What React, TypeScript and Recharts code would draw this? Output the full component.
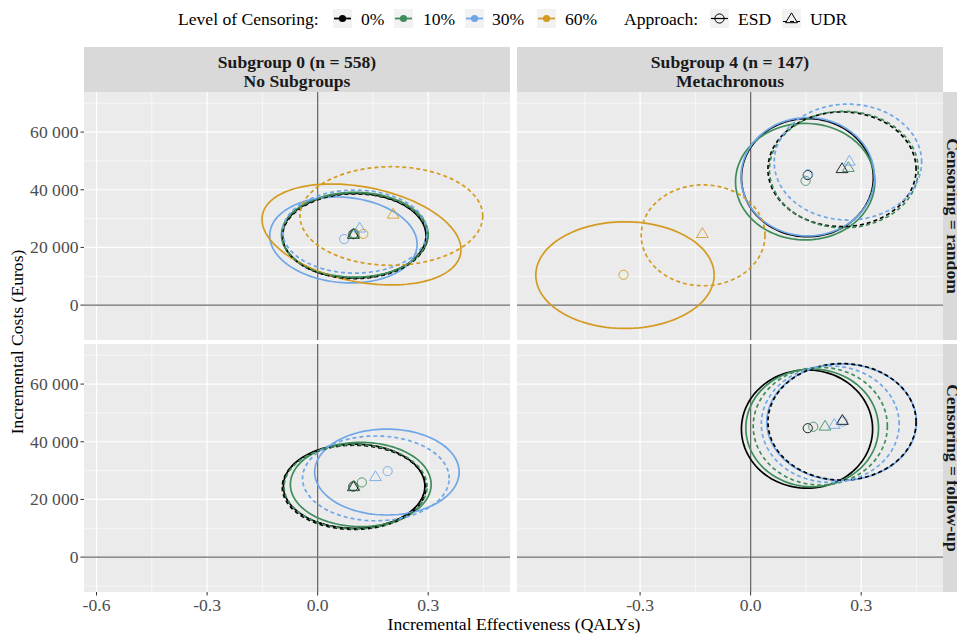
import React from 'react';
import {
  ComposedChart,
  Line,
  Scatter,
  XAxis,
  YAxis,
  CartesianGrid,
  ReferenceLine
} from 'recharts';

// level of censoring -> colour
const LEVELS = ['0%', '10%', '30%', '60%'];
const LEVEL_COLORS: Record<string, string> = {
  '0%': '#000000',
  '10%': '#3E8C5A',
  '30%': '#6EA6E8',
  '60%': '#D39B22'
};
const APPROACHES = ['ESD', 'UDR'];

const X_TICKS = [-0.6, -0.3, 0, 0.3];
const X_MINOR = [-0.45, -0.15, 0.15, 0.45];
const Y_TICKS = [0, 20000, 40000, 60000];
const Y_MINOR = [-10000, 10000, 30000, 50000, 70000];
const X_DOMAIN = [-0.634, 0.522];
const Y_DOMAIN = [-12100, 73900];

// ellipses: level, approach, centre (QALY, Euro), half widths, tilt (correlation)
const sub0RandomEllipses = [
  { level: '0%', approach: 'ESD', cx: 0.099, cy: 24100, rx: 0.195, ry: 14700, rho: 0 },
  { level: '10%', approach: 'ESD', cx: 0.101, cy: 24400, rx: 0.199, ry: 14700, rho: 0 },
  { level: '30%', approach: 'ESD', cx: 0.070, cy: 22600, rx: 0.200, ry: 14900, rho: -0.1 },
  { level: '60%', approach: 'ESD', cx: 0.119, cy: 24500, rx: 0.270, ry: 17500, rho: -0.3 },
  { level: '0%', approach: 'UDR', cx: 0.101, cy: 23900, rx: 0.196, ry: 14700, rho: 0 },
  { level: '10%', approach: 'UDR', cx: 0.100, cy: 24200, rx: 0.197, ry: 14700, rho: 0 },
  { level: '30%', approach: 'UDR', cx: 0.101, cy: 25500, rx: 0.196, ry: 14400, rho: 0 },
  { level: '60%', approach: 'UDR', cx: 0.200, cy: 30900, rx: 0.248, ry: 17100, rho: 0 }
];
const sub4RandomEllipses = [
  { level: '0%', approach: 'ESD', cx: 0.154, cy: 44200, rx: 0.179, ry: 20500, rho: 0 },
  { level: '10%', approach: 'ESD', cx: 0.148, cy: 42800, rx: 0.189, ry: 20200, rho: 0 },
  { level: '30%', approach: 'ESD', cx: 0.155, cy: 44500, rx: 0.181, ry: 20500, rho: 0 },
  { level: '60%', approach: 'ESD', cx: -0.341, cy: 10400, rx: 0.242, ry: 18500, rho: 0 },
  { level: '0%', approach: 'UDR', cx: 0.248, cy: 47100, rx: 0.201, ry: 19900, rho: 0 },
  { level: '10%', approach: 'UDR', cx: 0.253, cy: 47000, rx: 0.202, ry: 20200, rho: 0 },
  { level: '30%', approach: 'UDR', cx: 0.264, cy: 49600, rx: 0.200, ry: 20100, rho: 0 },
  { level: '60%', approach: 'UDR', cx: -0.129, cy: 24200, rx: 0.168, ry: 17500, rho: 0 }
];
const sub0FollowEllipses = [
  { level: '0%', approach: 'ESD', cx: 0.099, cy: 24600, rx: 0.192, ry: 14600, rho: 0 },
  { level: '10%', approach: 'ESD', cx: 0.117, cy: 25200, rx: 0.191, ry: 14600, rho: 0 },
  { level: '30%', approach: 'ESD', cx: 0.188, cy: 29500, rx: 0.196, ry: 14900, rho: 0 },
  { level: '0%', approach: 'UDR', cx: 0.099, cy: 24200, rx: 0.195, ry: 14600, rho: 0 },
  { level: '10%', approach: 'UDR', cx: 0.103, cy: 24400, rx: 0.194, ry: 14600, rho: 0 },
  { level: '30%', approach: 'UDR', cx: 0.158, cy: 27300, rx: 0.199, ry: 14700, rho: 0 }
];
const sub4FollowEllipses = [
  { level: '0%', approach: 'ESD', cx: 0.153, cy: 44400, rx: 0.178, ry: 20500, rho: 0 },
  { level: '10%', approach: 'ESD', cx: 0.167, cy: 44800, rx: 0.180, ry: 20400, rho: 0 },
  { level: '30%', approach: 'ESD', cx: 0.247, cy: 46800, rx: 0.203, ry: 20200, rho: 0 },
  { level: '0%', approach: 'UDR', cx: 0.248, cy: 46900, rx: 0.201, ry: 20200, rho: 0 },
  { level: '10%', approach: 'UDR', cx: 0.189, cy: 45400, rx: 0.182, ry: 20400, rho: 0 },
  { level: '30%', approach: 'UDR', cx: 0.216, cy: 46100, rx: 0.187, ry: 20200, rho: 0 }
];

// point estimates
const sub0RandomPoints = [
  { level: '0%', approach: 'ESD', x: 0.097, y: 24600 },
  { level: '10%', approach: 'ESD', x: 0.100, y: 24800 },
  { level: '30%', approach: 'ESD', x: 0.072, y: 22900 },
  { level: '60%', approach: 'ESD', x: 0.124, y: 24700 },
  { level: '0%', approach: 'UDR', x: 0.097, y: 24600 },
  { level: '10%', approach: 'UDR', x: 0.099, y: 24700 },
  { level: '30%', approach: 'UDR', x: 0.114, y: 26800 },
  { level: '60%', approach: 'UDR', x: 0.205, y: 31600 }
];
const sub4RandomPoints = [
  { level: '0%', approach: 'ESD', x: 0.155, y: 45100 },
  { level: '10%', approach: 'ESD', x: 0.149, y: 43100 },
  { level: '30%', approach: 'ESD', x: 0.156, y: 45400 },
  { level: '60%', approach: 'ESD', x: -0.345, y: 10500 },
  { level: '0%', approach: 'UDR', x: 0.248, y: 47400 },
  { level: '10%', approach: 'UDR', x: 0.265, y: 47800 },
  { level: '30%', approach: 'UDR', x: 0.268, y: 50000 },
  { level: '60%', approach: 'UDR', x: -0.131, y: 24900 }
];
const sub0FollowPoints = [
  { level: '0%', approach: 'ESD', x: 0.097, y: 24500 },
  { level: '10%', approach: 'ESD', x: 0.120, y: 25900 },
  { level: '30%', approach: 'ESD', x: 0.190, y: 29800 },
  { level: '0%', approach: 'UDR', x: 0.097, y: 24500 },
  { level: '10%', approach: 'UDR', x: 0.099, y: 24700 },
  { level: '30%', approach: 'UDR', x: 0.157, y: 28000 }
];
const sub4FollowPoints = [
  { level: '0%', approach: 'ESD', x: 0.155, y: 44700 },
  { level: '10%', approach: 'ESD', x: 0.170, y: 45200 },
  { level: '30%', approach: 'ESD', x: 0.250, y: 47000 },
  { level: '0%', approach: 'UDR', x: 0.249, y: 47500 },
  { level: '10%', approach: 'UDR', x: 0.202, y: 45500 },
  { level: '30%', approach: 'UDR', x: 0.227, y: 46100 }
];

const FONT = '"Liberation Serif", "DejaVu Serif", serif';
const FS = 17.6;
const STEPS = 120;

// outline of an ellipse in data units
const ellipseOutline = (e: any) => {
  const pts = [];
  const s = Math.sqrt(1 - e.rho * e.rho);
  for (let i = 0; i <= STEPS; i++) {
    const t = (2 * Math.PI * i) / STEPS;
    pts.push({
      x: e.cx + e.rx * Math.cos(t),
      y: e.cy + e.ry * (e.rho * Math.cos(t) + s * Math.sin(t))
    });
  }
  return pts;
};

const Marker = (props: any) => {
  const { cx, cy, payload } = props;
  if (cx == null || cy == null) return <g />;
  const color = LEVEL_COLORS[payload.level];
  if (payload.approach === 'ESD') {
    return <circle cx={cx} cy={cy} r={4.6} fill="none" stroke={color} strokeWidth={1} strokeOpacity={0.85} />;
  }
  const h = 5.6;
  return (
    <polygon
      points={`${cx},${cy - h} ${cx - h * 1.05},${cy + h * 0.75} ${cx + h * 1.05},${cy + h * 0.75}`}
      fill="none"
      stroke={color}
      strokeWidth={1}
      strokeOpacity={0.85}
    />
  );
};

const fmtY = (v: number) => {
  if (v === 0) return '0';
  const s = String(v);
  return s.slice(0, s.length - 3) + ' ' + s.slice(s.length - 3);
};

const XTick = (props: any) => {
  const { x, y, payload } = props;
  return (
    <text x={x} y={y} dy="0.75em" textAnchor="middle" fontSize={FS} fontFamily={FONT} fill="#4D4D4D">
      {Number(payload.value).toFixed(1)}
    </text>
  );
};

const YTick = (props: any) => {
  const { x, y, payload } = props;
  return (
    <text x={x} y={y} textAnchor="end" dominantBaseline="central" fontSize={FS} fontFamily={FONT} fill="#4D4D4D">
      {fmtY(payload.value)}
    </text>
  );
};

interface FacetProps {
  ellipses: any[];
  points: any[];
  showX: boolean;
  showY: boolean;
}

const Facet: React.FC<FacetProps> = ({ ellipses, points, showX, showY }) => {
  const width = (showY ? 84 : 0) + 426;
  const height = 248 + (showX ? 42 : 0);
  return (
    <ComposedChart width={width} height={height} margin={{ top: 0, right: 0, bottom: 0, left: 0 }}>
      <CartesianGrid
        fill="#EBEBEB"
        stroke="#FFFFFF"
        strokeWidth={0.6}
        horizontalValues={Y_MINOR}
        verticalValues={X_MINOR}
      />
      <CartesianGrid
        stroke="#FFFFFF"
        strokeWidth={1.2}
        horizontalValues={Y_TICKS}
        verticalValues={X_TICKS}
      />
      <XAxis
        type="number"
        dataKey="x"
        domain={X_DOMAIN}
        allowDataOverflow
        ticks={X_TICKS}
        hide={!showX}
        height={42}
        axisLine={false}
        tickLine={{ stroke: '#333333' }}
        tickSize={3.5}
        tick={<XTick />}
      />
      <YAxis
        type="number"
        dataKey="y"
        domain={Y_DOMAIN}
        allowDataOverflow
        ticks={Y_TICKS}
        hide={!showY}
        width={84}
        axisLine={false}
        tickLine={{ stroke: '#333333' }}
        tickSize={3.5}
        tick={<YTick />}
      />
      <ReferenceLine x={0} stroke="#6B6B6B" strokeWidth={1.3} />
      <ReferenceLine y={0} stroke="#6B6B6B" strokeWidth={1.3} />
      {ellipses.map((e, i) => (
        <Line
          key={'e' + i}
          data={ellipseOutline(e)}
          dataKey="y"
          type="linear"
          stroke={LEVEL_COLORS[e.level]}
          strokeWidth={1.7}
          strokeDasharray={e.approach === 'UDR' ? '4 3' : undefined}
          dot={false}
          activeDot={false}
          legendType="none"
          isAnimationActive={false}
        />
      ))}
      {APPROACHES.map((a) => (
        <Scatter
          key={'p' + a}
          data={points.filter((p) => p.approach === a)}
          dataKey="y"
          shape={Marker}
          isAnimationActive={false}
        />
      ))}
    </ComposedChart>
  );
};

const Legend = () => {
  const y = 18.5;
  const levelKeys = [
    { x: 333, tx: 361 },
    { x: 394, tx: 423 },
    { x: 465, tx: 492 },
    { x: 537, tx: 565 }
  ];
  return (
    <svg width={957} height={40} style={{ position: 'absolute', left: 0, top: 0 }}>
      <text x={178} y={y} dominantBaseline="central" fontSize={FS} fontFamily={FONT} fill="#000">
        Level of Censoring:
      </text>
      {LEVELS.map((l, i) => (
        <g key={l}>
          <rect x={levelKeys[i].x} y={9} width={19} height={19} fill="#F2F2F2" />
          <line x1={levelKeys[i].x + 1} x2={levelKeys[i].x + 18} y1={y} y2={y} stroke={LEVEL_COLORS[l]} strokeWidth={1.8} />
          <circle cx={levelKeys[i].x + 9.5} cy={y} r={3.6} fill={LEVEL_COLORS[l]} />
          <text x={levelKeys[i].tx} y={y} dominantBaseline="central" fontSize={FS} fontFamily={FONT} fill="#000">
            {l}
          </text>
        </g>
      ))}
      <text x={624} y={y} dominantBaseline="central" fontSize={FS} fontFamily={FONT} fill="#000">
        Approach:
      </text>
      <rect x={710} y={9} width={19} height={19} fill="#F2F2F2" />
      <line x1={711} x2={728} y1={y} y2={y} stroke="#000" strokeWidth={1.2} />
      <circle cx={719.5} cy={y} r={4.6} fill="none" stroke="#000" strokeWidth={1} />
      <text x={738} y={y} dominantBaseline="central" fontSize={FS} fontFamily={FONT} fill="#000">
        ESD
      </text>
      <rect x={782} y={9} width={19} height={19} fill="#F2F2F2" />
      <line x1={783} x2={800} y1={y + 3} y2={y + 3} stroke="#000" strokeWidth={1.2} strokeDasharray="4 3" />
      <polygon
        points={`791.5,${y - 5.6} ${785.6},${y + 4.2} ${797.4},${y + 4.2}`}
        fill="none"
        stroke="#000"
        strokeWidth={1}
      />
      <text x={810} y={y} dominantBaseline="central" fontSize={FS} fontFamily={FONT} fill="#000">
        UDR
      </text>
    </svg>
  );
};

const Strips = () => {
  const textProps = {
    fontSize: FS,
    fontFamily: FONT,
    fontWeight: 700,
    fill: '#1A1A1A',
    textAnchor: 'middle' as const,
    dominantBaseline: 'central' as const
  };
  return (
    <svg width={957} height={634} style={{ position: 'absolute', left: 0, top: 0, pointerEvents: 'none' }}>
      <rect x={84} y={47} width={426} height={45} fill="#D9D9D9" />
      <text x={297} y={62} {...textProps}>Subgroup 0 (n = 558)</text>
      <text x={297} y={81} {...textProps}>No Subgroups</text>
      <rect x={517} y={47} width={426} height={45} fill="#D9D9D9" />
      <text x={730} y={62} {...textProps}>Subgroup 4 (n = 147)</text>
      <text x={730} y={81} {...textProps}>Metachronous</text>
      <rect x={943} y={92} width={30} height={248} fill="#D9D9D9" />
      <text x={953} y={216} transform="rotate(90 953 216)" {...textProps}>Censoring = random</text>
      <rect x={943} y={344} width={30} height={248} fill="#D9D9D9" />
      <text x={953} y={468} transform="rotate(90 953 468)" {...textProps}>Censoring = follow-up</text>
      <text x={514} y={624} fontSize={FS} fontFamily={FONT} fill="#000" textAnchor="middle" dominantBaseline="central">
        Incremental Effectiveness (QALYs)
      </text>
      <text x={17} y={342} transform="rotate(-90 17 342)" fontSize={FS} fontFamily={FONT} fill="#000" textAnchor="middle" dominantBaseline="central">
        Incremental Costs (Euros)
      </text>
    </svg>
  );
};

const App: React.FC = () => (
  <div style={{ position: 'absolute', left: 0, top: 0, width: 957, height: 634, background: '#FFFFFF', overflow: 'hidden', fontFamily: FONT }}>
    <Legend />
    <div style={{ position: 'absolute', left: 0, top: 92 }}>
      <Facet ellipses={sub0RandomEllipses} points={sub0RandomPoints} showX={false} showY={true} />
    </div>
    <div style={{ position: 'absolute', left: 517, top: 92 }}>
      <Facet ellipses={sub4RandomEllipses} points={sub4RandomPoints} showX={false} showY={false} />
    </div>
    <div style={{ position: 'absolute', left: 0, top: 344 }}>
      <Facet ellipses={sub0FollowEllipses} points={sub0FollowPoints} showX={true} showY={true} />
    </div>
    <div style={{ position: 'absolute', left: 517, top: 344 }}>
      <Facet ellipses={sub4FollowEllipses} points={sub4FollowPoints} showX={true} showY={false} />
    </div>
    <Strips />
  </div>
);

export default App;
